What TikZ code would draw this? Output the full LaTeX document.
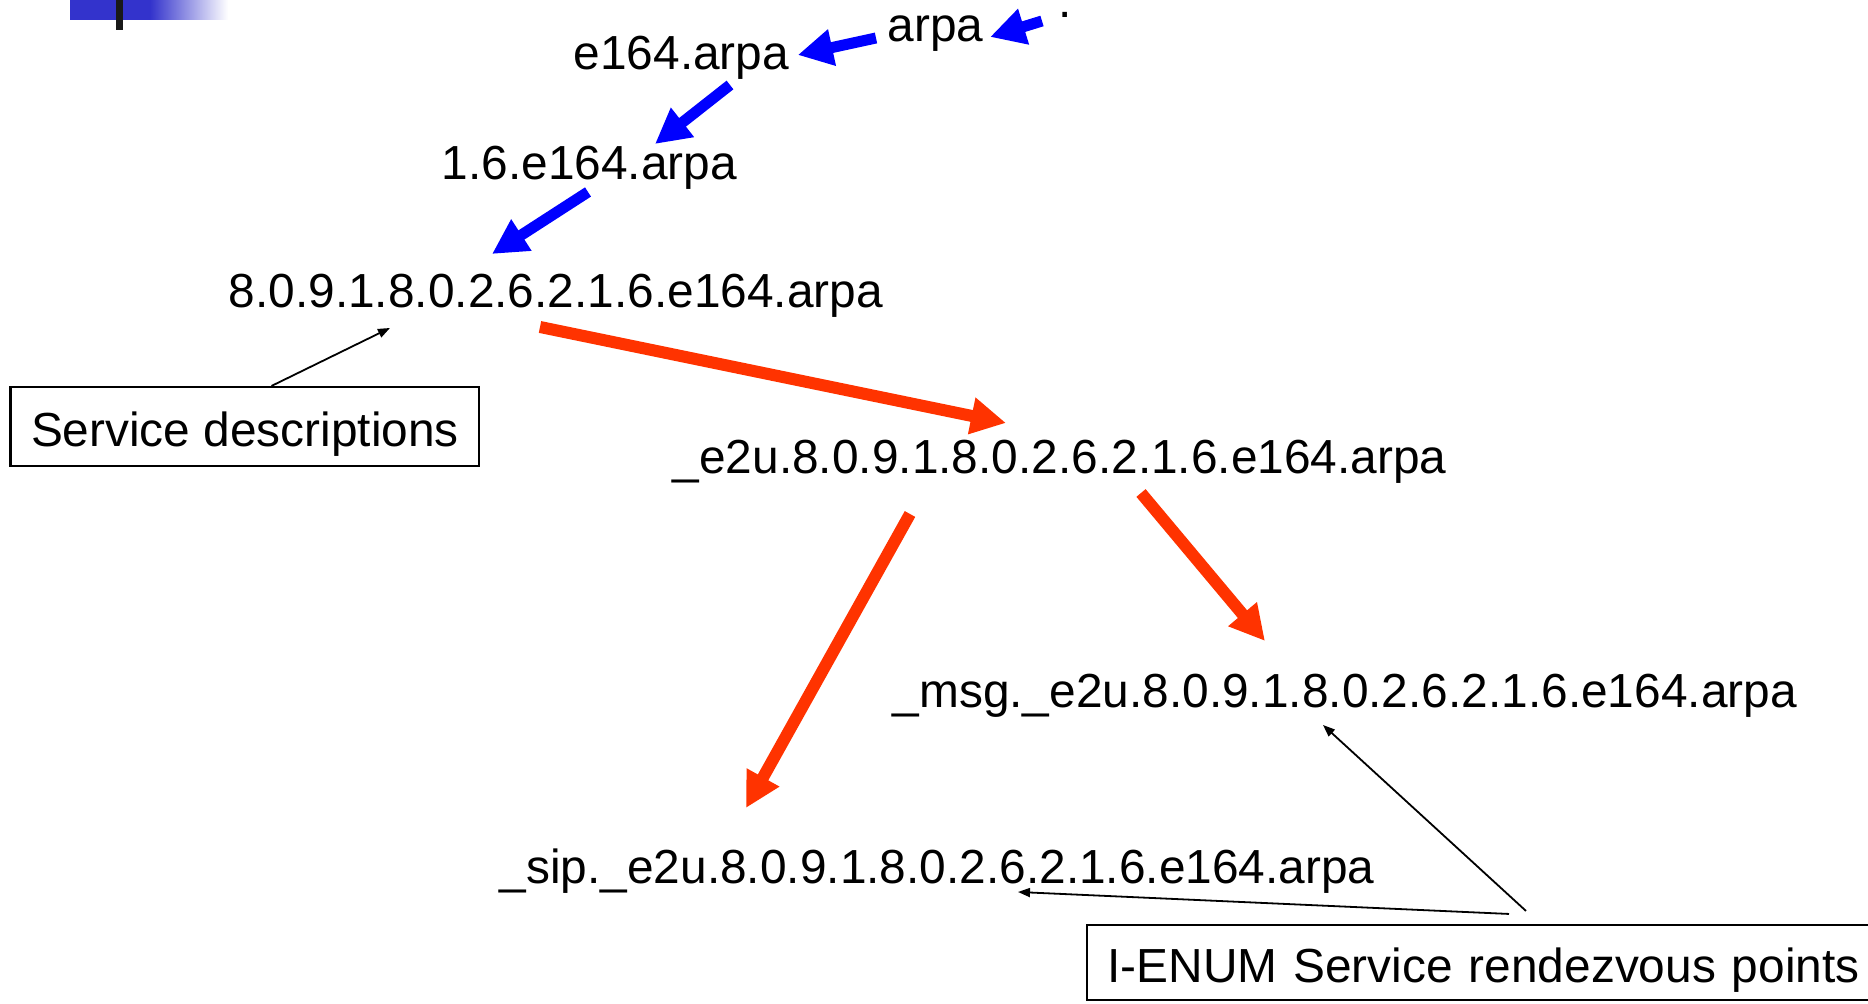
\documentclass[tikz,border=0pt]{standalone}
\usepackage{fontspec}
\setmainfont{Liberation Sans}
\usetikzlibrary{arrows.meta}
\definecolor{barblue}{RGB}{51,51,204}
\definecolor{zoneblue}{RGB}{0,0,255}
\definecolor{svcred}{RGB}{255,51,0}

\begin{document}
\begin{tikzpicture}
	[x=0.01cm,y=-0.01cm,font=\fontsize{13.6}{16}\selectfont,
	every node/.style={inner sep=0pt,anchor=base west},
	zonearr/.style={-{Triangle[length=0.35cm,width=0.35cm]},line width=0.11cm,draw=zoneblue},
	svcarr/.style={-{Triangle[length=0.35cm,width=0.35cm]},line width=0.12cm,draw=svcred},
	pointer/.style={-{Triangle[length=0.12cm,width=0.09cm]},line width=0.018cm},
	box/.style={draw,line width=0.02cm,inner xsep=0.205cm}]
	\path[use as bounding box,clip] (0,0) rectangle (1868,1004);
	
	% corner bar
	\fill[barblue] (70,0) rectangle (150,20);
	\shade[left color=barblue,right color=white] (150,0) rectangle (228,20);
	\fill[black!90] (116,0) rectangle (123,30);
	
	% zone names
	\node (root) at (1058,18) {.};
	\node (arpa) at (887,42) {arpa};
	\node (e164) at (573,70) {e164.arpa};
	\node (cc) at (441,180) {1.6.e164.arpa};
	\node (num) at (228,308) {8.0.9.1.8.0.2.6.2.1.6.e164.arpa};
	\node (e2u) at (672,474) {\_e2u.8.0.9.1.8.0.2.6.2.1.6.e164.arpa};
	\node (msg) at (892,708) {\_msg.\_e2u.8.0.9.1.8.0.2.6.2.1.6.e164.arpa};
	\node (sip) at (499,884) {\_sip.\_e2u.8.0.9.1.8.0.2.6.2.1.6.e164.arpa};
	
	% labels
	\node[box,text height=0.6cm,text depth=0.19cm] (desc) at (9.5,447) {Service descriptions};
	\node[box,text height=0.58cm,text depth=0.17cm,text width=8cm,align=left] (rdv) at (1086,983) {I-ENUM Service rendezvous points};
	
	% delegation
	\draw[zonearr] ([shift={(-16,3)}]root.base west) -- ([shift={(6,-5)}]arpa.base east);
	\draw[zonearr] ([shift={(-11,-4)}]arpa.base west) -- ([shift={(8,-15)}]e164.base east);
	\draw[zonearr] ([shift={(157,15)}]e164.base west) -- ([shift={(214,-36)}]cc.base west);
	\draw[zonearr] ([shift={(147,12)}]cc.base west) -- ([shift={(264,-54)}]num.base west);
	
	\draw[svcarr] ([shift={(312,19)}]num.base west) -- ([shift={(334,-51)}]e2u.base west);
	\draw[svcarr] ([shift={(238,40)}]e2u.base west) -- ([shift={(247,-76)}]sip.base west);
	\draw[svcarr] ([shift={(469,19)}]e2u.base west) -- ([shift={(373,-67)}]msg.base west);
	
	\draw[pointer] ([shift={(262,0)}]desc.north west) -- ([shift={(162,20)}]num.base west);
	\draw[pointer] ([shift={(423,-10)}]rdv.north west) -- ([shift={(519,8)}]sip.base west);
	\draw[pointer] ([shift={(440,-13)}]rdv.north west) -- ([shift={(431,17)}]msg.base west);
\end{tikzpicture}
\end{document}
